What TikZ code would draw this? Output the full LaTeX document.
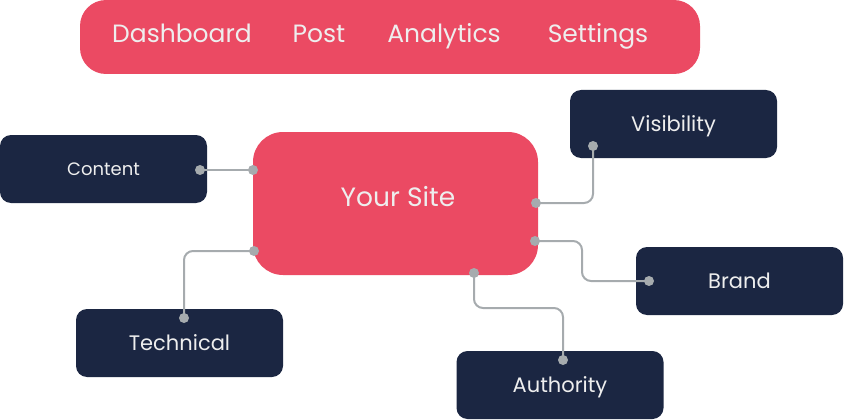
\documentclass[tikz,border=0pt]{standalone}
\usepackage{fontspec}
\setmainfont{Poppins}
\usepackage{xcolor}

\definecolor{sitered}{HTML}{EB4A63}
\definecolor{boxnavy}{HTML}{1B2642}
\definecolor{wiregray}{HTML}{A6ABAE}
\definecolor{labelwhite}{HTML}{EEEEEE}

\tikzset{
  capcentre/.style={text height=#1, text depth=0pt},
  menubar/.style={fill=sitered, rounded corners=26pt, minimum width=620pt, minimum height=74pt, inner sep=0pt},
  menuitem/.style={capcentre=17.5pt, text=labelwhite, inner sep=0pt, font=\fontsize{25}{30}\selectfont},
  sitebox/.style={fill=sitered, rounded corners=30pt, minimum width=285pt, minimum height=143pt, inner sep=0pt},
  sitetext/.style={capcentre=18.5pt, text=labelwhite, inner sep=0pt, font=\fontsize{26.5}{32}\selectfont},
  topicbox/.style={capcentre=14.7pt, fill=boxnavy, rounded corners=11pt, text=labelwhite, minimum width=207pt, minimum height=68pt, inner sep=0pt, font=\fontsize{21}{25}\selectfont},
  wire/.style={draw=wiregray, line width=2pt, rounded corners=9pt},
  pin/.style={fill=wiregray}
}

\begin{document}
\begin{tikzpicture}[x=1pt,y=-1pt]
    \useasboundingbox (0,0) rectangle (844,420);

    % menu bar at the top
    \node[menubar] (menu) at (390,37) {};
    \node[menuitem] (dash) at (182,34) {Dashboard};
    \node[menuitem] (post) at (319,34) {Post};
    \node[menuitem] (stats) at (444,34) {Analytics};
    \node[menuitem] (setup) at (598,34) {Settings};

    % the site in the middle
    \node[sitebox] (site) at (395.5,203.5) {};
    \node[sitetext] (site-label) at (398,197.5) {Your Site};

    % the topics round it
    \node[topicbox, capcentre=12.6pt, font=\fontsize{18}{22}\selectfont] (content) at (103.5,169) {Content};
    \node[topicbox] (vis) at (673.5,124) {Visibility};
    \node[topicbox] (brand) at (739.5,281) {Brand};
    \node[topicbox] (tech) at (179.5,343) {Technical};
    \node[topicbox] (auth) at (560,385) {Authority};

    % end points of the wires
    \coordinate (content-pin) at (200,170);
    \coordinate (site-w) at (253,170);
    \coordinate (site-ne) at (536,203);
    \coordinate (vis-pin) at (593,146);
    \coordinate (site-se) at (535,241);
    \coordinate (brand-pin) at (649,281);
    \coordinate (site-sw) at (254,251);
    \coordinate (tech-pin) at (184,318);
    \coordinate (site-s) at (474,273);
    \coordinate (auth-pin) at (563,360);

    % wires
    \draw[wire] (content-pin) -- (site-w);
    \draw[wire] (site-ne) -| (vis-pin);
    \draw[wire] (site-se) -- ++(47,0) |- (brand-pin);
    \draw[wire] (site-sw) -| (tech-pin);
    \draw[wire] (site-s) -- ++(0,35) -| (auth-pin);

    % dots on the ends
    \foreach \p in {content-pin,site-w,site-ne,vis-pin,site-se,brand-pin,site-sw,tech-pin,site-s,auth-pin}
        \fill[pin] (\p) circle (5pt);
\end{tikzpicture}
\end{document}
